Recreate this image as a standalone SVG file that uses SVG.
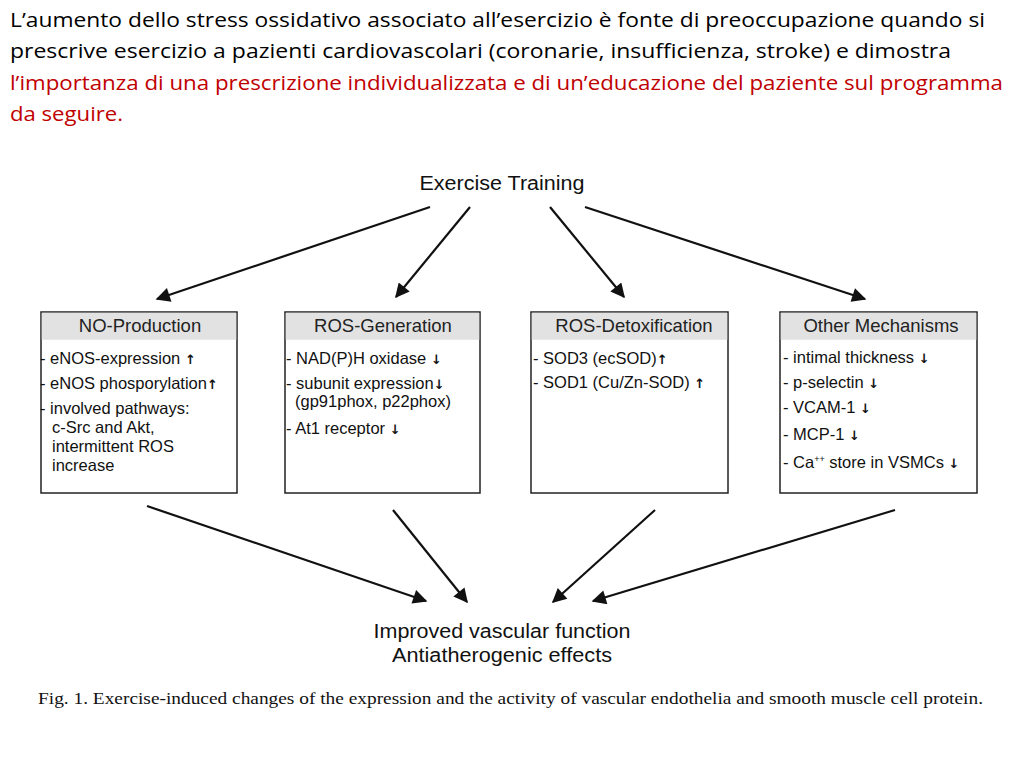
<svg xmlns="http://www.w3.org/2000/svg" width="1024" height="768" viewBox="0 0 1024 768">
<style>
.intro{font-family:"Open Sans","Liberation Sans",sans-serif;font-size:20px;fill:#000}
.red{fill:#c00000}
.hdr{font-family:"Liberation Sans",Arial,sans-serif;font-size:18.5px;fill:#222;text-anchor:middle}
.item{font-family:"Liberation Sans",Arial,sans-serif;font-size:16.5px;fill:#111}
.arr{font-family:"DejaVu Sans",sans-serif;font-size:13px;font-weight:bold;fill:#111}
.big{font-family:"Liberation Sans",Arial,sans-serif;font-size:20px;fill:#111;text-anchor:middle}
.cap{font-family:"Liberation Serif","Times New Roman",serif;font-size:16.5px;fill:#111}
.box{fill:#fff;stroke:#222;stroke-width:1.5}
.hbar{fill:#e2e2e2}
.conn line{stroke:#111;stroke-width:2.2;marker-end:url(#ah)}
</style>
<defs>
<marker id="ah" viewBox="0 0 10 10" refX="9" refY="5" markerWidth="8" markerHeight="6.5" markerUnits="strokeWidth" orient="auto">
<path d="M0,0 L10,5 L0,10 z" fill="#111"/>
</marker>
</defs>
<rect width="1024" height="768" fill="#fff"/>
<g id="intro">
<text class="intro" x="10" y="27" textLength="975" lengthAdjust="spacingAndGlyphs">L’aumento dello stress ossidativo associato all’esercizio è fonte di preoccupazione quando si</text>
<text class="intro" x="10" y="58" textLength="941" lengthAdjust="spacingAndGlyphs">prescrive esercizio a pazienti cardiovascolari (coronarie, insufficienza, stroke) e dimostra</text>
<text class="intro red" x="10" y="90" textLength="993" lengthAdjust="spacingAndGlyphs">l’importanza di una prescrizione individualizzata e di un’educazione del paziente sul programma</text>
<text class="intro red" x="10" y="121" textLength="113" lengthAdjust="spacingAndGlyphs">da seguire.</text>
</g>
<g id="exercise-training">
<text class="big" x="502" y="190" textLength="165" lengthAdjust="spacingAndGlyphs">Exercise Training</text>
</g>
<g id="no-production">
<rect class="box" x="41" y="312" width="196" height="181"/>
<rect class="hbar" x="41.75" y="312.75" width="194.5" height="27"/>
<text class="hdr" x="140" y="332">NO-Production</text>
<text class="item" x="40" y="364">- eNOS-expression <tspan class="arr">↑</tspan></text>
<text class="item" x="40" y="389">- eNOS phosporylation<tspan class="arr">↑</tspan></text>
<text class="item" x="40" y="414">- involved pathways:</text>
<text class="item" x="52" y="433">c-Src and Akt,</text>
<text class="item" x="52" y="452">intermittent ROS</text>
<text class="item" x="52" y="471">increase</text>
</g>
<g id="ros-generation">
<rect class="box" x="285" y="312" width="195" height="181"/>
<rect class="hbar" x="285.75" y="312.75" width="193.5" height="27"/>
<text class="hdr" x="383" y="332">ROS-Generation</text>
<text class="item" x="286" y="364">- NAD(P)H oxidase <tspan class="arr">↓</tspan></text>
<text class="item" x="286" y="389">- subunit expression<tspan class="arr">↓</tspan></text>
<text class="item" x="295" y="407">(gp91phox, p22phox)</text>
<text class="item" x="286" y="434">- At1 receptor <tspan class="arr">↓</tspan></text>
</g>
<g id="ros-detoxification">
<rect class="box" x="531" y="312" width="197" height="181"/>
<rect class="hbar" x="531.75" y="312.75" width="195.5" height="27"/>
<text class="hdr" x="634" y="332">ROS-Detoxification</text>
<text class="item" x="533" y="364">- SOD3 (ecSOD)<tspan class="arr">↑</tspan></text>
<text class="item" x="533" y="388">- SOD1 (Cu/Zn-SOD) <tspan class="arr">↑</tspan></text>
</g>
<g id="other-mechanisms">
<rect class="box" x="780" y="312" width="197" height="181"/>
<rect class="hbar" x="780.75" y="312.75" width="195.5" height="27"/>
<text class="hdr" x="881" y="332">Other Mechanisms</text>
<text class="item" x="783" y="363">- intimal thickness <tspan class="arr">↓</tspan></text>
<text class="item" x="783" y="388">- p-selectin <tspan class="arr">↓</tspan></text>
<text class="item" x="783" y="413">- VCAM-1 <tspan class="arr">↓</tspan></text>
<text class="item" x="783" y="440">- MCP-1 <tspan class="arr">↓</tspan></text>
<text class="item" x="783" y="468">- Ca<tspan font-size="9" dy="-6">++</tspan><tspan dy="6"> store in VSMCs </tspan><tspan class="arr">↓</tspan></text>
</g>
<g id="outcome">
<text class="big" x="502" y="638" textLength="257" lengthAdjust="spacingAndGlyphs">Improved vascular function</text>
<text class="big" x="502" y="662" textLength="220" lengthAdjust="spacingAndGlyphs">Antiatherogenic effects</text>
</g>
<g id="connectors" class="conn">
<line x1="430" y1="207" x2="157" y2="299"/>
<line x1="470" y1="207" x2="396" y2="297"/>
<line x1="550" y1="207" x2="624" y2="297"/>
<line x1="585" y1="207" x2="865" y2="299"/>
<line x1="147" y1="506" x2="426" y2="601"/>
<line x1="393" y1="510" x2="467" y2="602"/>
<line x1="655" y1="510" x2="553" y2="602"/>
<line x1="895" y1="510" x2="593" y2="601"/>
</g>
<g id="caption">
<text class="cap" x="38" y="704" textLength="945" lengthAdjust="spacingAndGlyphs">Fig. 1. Exercise-induced changes of the expression and the activity of vascular endothelia and smooth muscle cell protein.</text>
</g>
</svg>
